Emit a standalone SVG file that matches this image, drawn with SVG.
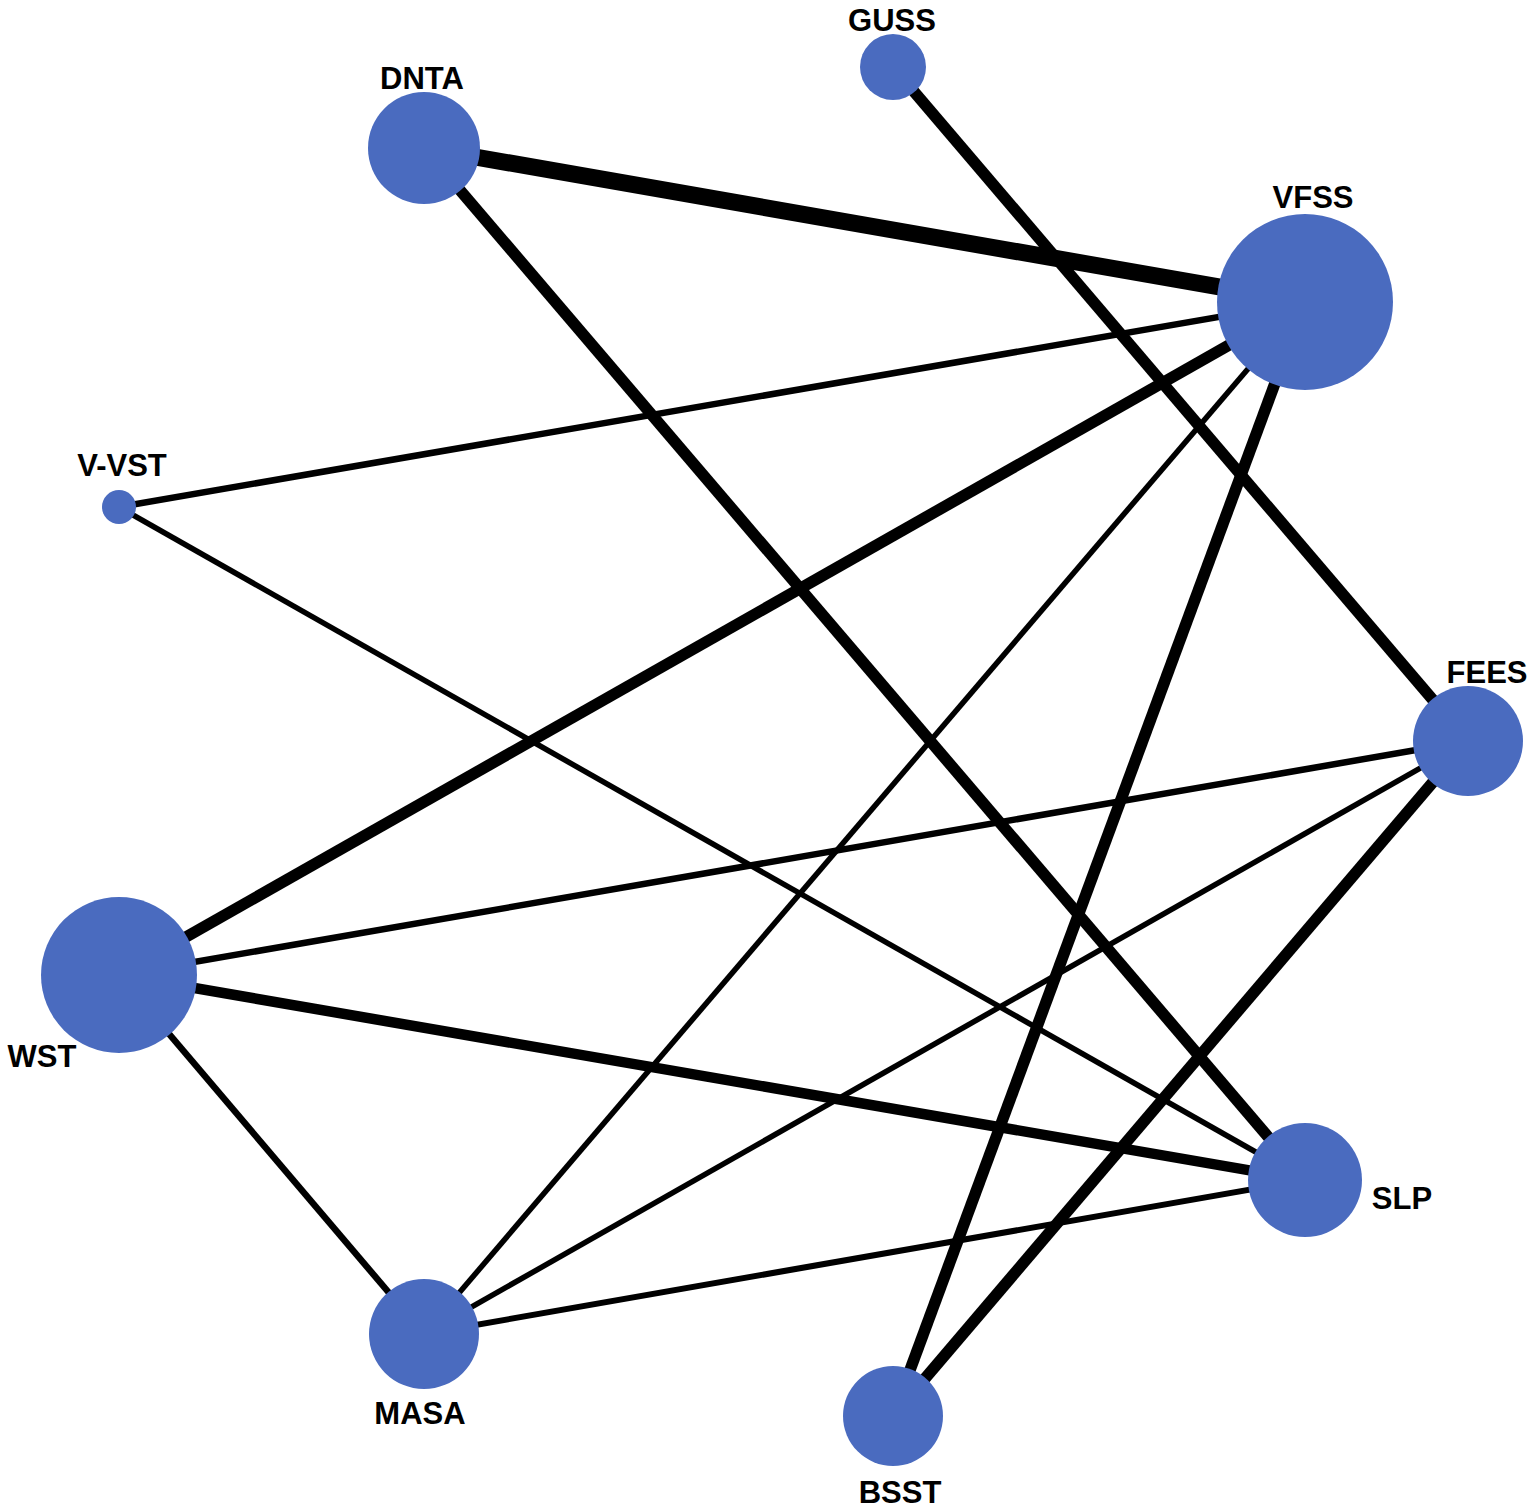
<svg xmlns="http://www.w3.org/2000/svg" width="1536" height="1510" viewBox="0 0 1536 1510">
<style>
.e{stroke:#000;fill:none;stroke-linecap:butt}
.n{fill:#4a6bbf}
.t{font-family:"Liberation Sans",Arial,sans-serif;font-weight:bold;font-size:31px;fill:#000;text-anchor:middle}
</style>
<rect width="1536" height="1510" fill="#fff"/>
<g id="edges">
<line class="e" x1="424" y1="148" x2="1305" y2="302" stroke-width="17"/>
<line class="e" x1="424" y1="148" x2="1305" y2="1180" stroke-width="11.5"/>
<line class="e" x1="893" y1="67" x2="1468" y2="741" stroke-width="11.5"/>
<line class="e" x1="1305" y1="302" x2="119" y2="507" stroke-width="6.5"/>
<line class="e" x1="1305" y1="302" x2="119" y2="975" stroke-width="11.5"/>
<line class="e" x1="1305" y1="302" x2="424" y2="1334" stroke-width="5.5"/>
<line class="e" x1="1305" y1="302" x2="893" y2="1416" stroke-width="11.5"/>
<line class="e" x1="119" y1="507" x2="1305" y2="1180" stroke-width="5.5"/>
<line class="e" x1="1468" y1="741" x2="119" y2="975" stroke-width="6.5"/>
<line class="e" x1="1468" y1="741" x2="424" y2="1334" stroke-width="5.5"/>
<line class="e" x1="1468" y1="741" x2="893" y2="1416" stroke-width="11.5"/>
<line class="e" x1="119" y1="975" x2="1305" y2="1180" stroke-width="10.5"/>
<line class="e" x1="119" y1="975" x2="424" y2="1334" stroke-width="6.5"/>
<line class="e" x1="424" y1="1334" x2="1305" y2="1180" stroke-width="6"/>
</g>
<g id="GUSS"><circle class="n" cx="893" cy="67" r="33"/><text class="t" x="892" y="31">GUSS</text></g>
<g id="DNTA"><circle class="n" cx="424" cy="148" r="56"/><text class="t" x="422" y="89">DNTA</text></g>
<g id="VFSS"><circle class="n" cx="1305" cy="302" r="88"/><text class="t" x="1313" y="208">VFSS</text></g>
<g id="V-VST"><circle class="n" cx="119" cy="507" r="17"/><text class="t" x="122" y="476">V-VST</text></g>
<g id="FEES"><circle class="n" cx="1468" cy="741" r="55"/><text class="t" x="1487" y="683">FEES</text></g>
<g id="WST"><circle class="n" cx="119" cy="975" r="78"/><text class="t" x="42" y="1067">WST</text></g>
<g id="SLP"><circle class="n" cx="1305" cy="1180" r="57"/><text class="t" x="1402" y="1209">SLP</text></g>
<g id="MASA"><circle class="n" cx="424" cy="1334" r="55"/><text class="t" x="420" y="1424">MASA</text></g>
<g id="BSST"><circle class="n" cx="893" cy="1416" r="50"/><text class="t" x="900" y="1503">BSST</text></g>
</svg>
